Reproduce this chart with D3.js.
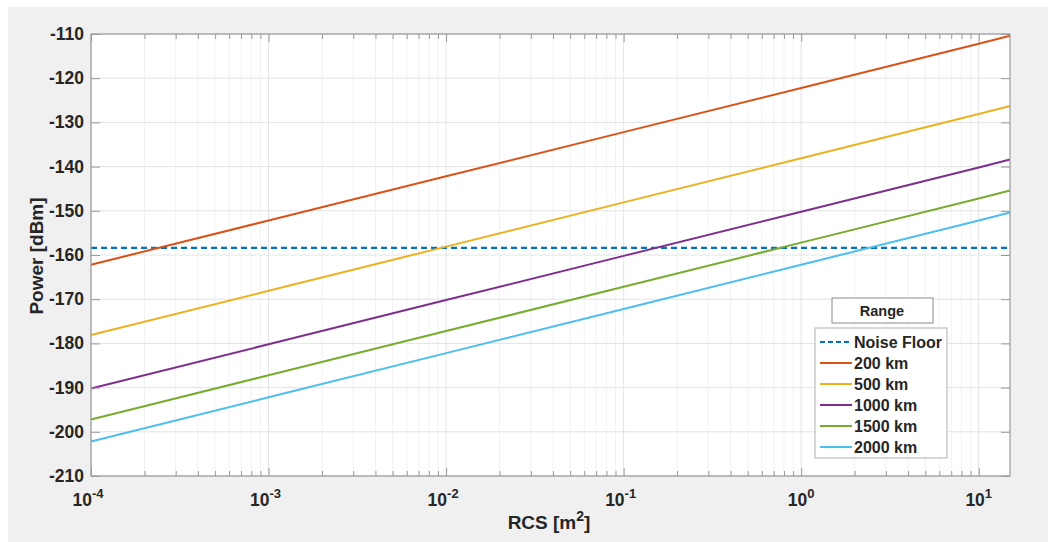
<!DOCTYPE html>
<html>
<head>
<meta charset="utf-8">
<script src="https://cdn.jsdelivr.net/npm/d3@7"></script>
<style>
  body { margin: 0; background: #fff; }
  text { font-family: "Liberation Sans", Arial, sans-serif; font-weight: bold; fill: #262626; }
</style>
</head>
<body>
<svg id="chart" width="1048" height="542"></svg>
<script>
// RCS sample points [m^2]
const rcs = [1e-4, 1e-3, 1e-2, 1e-1, 1, 10, 15];

// received power [dBm] at each rcs point
const p200 = [-162.2, -152.2, -142.2, -132.2, -122.2, -112.2, -110.4];
const p500 = [-178.1, -168.1, -158.1, -148.1, -138.1, -128.1, -126.3];
const p1000 = [-190.2, -180.2, -170.2, -160.2, -150.2, -140.2, -138.4];
const p1500 = [-197.2, -187.2, -177.2, -167.2, -157.2, -147.2, -145.4];
const p2000 = [-202.2, -192.2, -182.2, -172.2, -162.2, -152.2, -150.4];
const noiseFloor = -158.4;

const seriesNames = ['200 km', '500 km', '1000 km', '1500 km', '2000 km'];
const seriesVals = [p200, p500, p1000, p1500, p2000];
const seriesColors = ['#D95319', '#EDB120', '#7E2F8E', '#77AC30', '#4DBEEE'];

const yTicks = [-210, -200, -190, -180, -170, -160, -150, -140, -130, -120, -110];
const xTickExp = [-4, -3, -2, -1, 0, 1];

const L = 91, R = 1010, T = 34, B = 476;

let svg = d3.select('#chart');

// figure background
svg.append('rect')
  .attr('x', 8).attr('y', 7)
  .attr('width', 1040).attr('height', 535)
  .attr('fill', '#f0f0f0');

let x = d3.scaleLog().domain([1e-4, 15]).range([L, R]);
let y = d3.scaleLinear().domain([-210, -110]).range([B, T]);

svg.append('rect')
  .attr('x', L).attr('y', T)
  .attr('width', R - L).attr('height', B - T)
  .attr('fill', '#fff');

// minor grid (2..9 of each decade)
let minor = [];
for (let e = -4; e <= 1; e++) {
  for (let m = 2; m <= 9; m++) {
    let v = m * Math.pow(10, e);
    if (v < 15) minor.push(v);
  }
}
let majors = xTickExp.map(e => Math.pow(10, e));

svg.append('g').selectAll('line').data(minor).join('line')
  .attr('x1', d => x(d)).attr('x2', d => x(d))
  .attr('y1', T).attr('y2', B)
  .attr('stroke', '#f2f2f2').attr('stroke-width', 1);

svg.append('g').selectAll('line').data(majors).join('line')
  .attr('x1', d => x(d)).attr('x2', d => x(d))
  .attr('y1', T).attr('y2', B)
  .attr('stroke', '#e3e3e3').attr('stroke-width', 1);

svg.append('g').selectAll('line').data(yTicks).join('line')
  .attr('x1', L).attr('x2', R)
  .attr('y1', d => y(d)).attr('y2', d => y(d))
  .attr('stroke', '#e3e3e3').attr('stroke-width', 1);

// noise floor
svg.append('line')
  .attr('x1', L).attr('x2', R)
  .attr('y1', y(noiseFloor)).attr('y2', y(noiseFloor))
  .attr('stroke', '#0072BD').attr('stroke-width', 2.2)
  .attr('stroke-dasharray', '6,4');

// range lines
let line = d3.line().x(d => x(d[0])).y(d => y(d[1]));
seriesVals.forEach((vals, i) => {
  svg.append('path')
    .datum(rcs.map((r, j) => [r, vals[j]]))
    .attr('d', line)
    .attr('fill', 'none')
    .attr('stroke', seriesColors[i])
    .attr('stroke-width', 2);
});

// axes box with inward ticks
let axisColor = '#9a9a9a';
let ax = svg.append('g');

ax.append('g')
  .attr('transform', `translate(0,${B})`)
  .call(d3.axisBottom(x).tickValues(majors).tickSize(-8).tickFormat(''))
  .call(g => g.select('.domain').remove());
ax.append('g')
  .attr('transform', `translate(0,${B})`)
  .call(d3.axisBottom(x).tickValues(minor).tickSize(-5).tickFormat(''))
  .call(g => g.select('.domain').remove());
ax.append('g')
  .attr('transform', `translate(0,${T})`)
  .call(d3.axisTop(x).tickValues(majors).tickSize(-8).tickFormat(''))
  .call(g => g.select('.domain').remove());
ax.append('g')
  .attr('transform', `translate(0,${T})`)
  .call(d3.axisTop(x).tickValues(minor).tickSize(-5).tickFormat(''))
  .call(g => g.select('.domain').remove());
ax.append('g')
  .attr('transform', `translate(${L},0)`)
  .call(d3.axisLeft(y).tickValues(yTicks).tickSize(-9).tickFormat(''))
  .call(g => g.select('.domain').remove());
ax.append('g')
  .attr('transform', `translate(${R},0)`)
  .call(d3.axisRight(y).tickValues(yTicks).tickSize(-9).tickFormat(''))
  .call(g => g.select('.domain').remove());
ax.selectAll('line').attr('stroke', axisColor);

ax.append('rect')
  .attr('x', L).attr('y', T)
  .attr('width', R - L).attr('height', B - T)
  .attr('fill', 'none').attr('stroke', axisColor).attr('stroke-width', 1.2);

// y tick labels
svg.append('g').selectAll('text').data(yTicks).join('text')
  .attr('x', 84).attr('y', d => y(d) + 6)
  .attr('text-anchor', 'end')
  .attr('font-size', 17.5)
  .text(d => d);

// x tick labels 10^n
let xl = svg.append('g').selectAll('text').data(xTickExp).join('text')
  .attr('x', d => x(Math.pow(10, d)) + (d < 0 ? -3 : 0))
  .attr('y', 506)
  .attr('text-anchor', 'middle')
  .attr('font-size', 17.5);
xl.append('tspan').text('10');
xl.append('tspan').attr('dy', -8).attr('font-size', 13).text(d => d);

// axis labels
let xlab = svg.append('text')
  .attr('x', 549).attr('y', 529)
  .attr('text-anchor', 'middle')
  .attr('font-size', 19);
xlab.append('tspan').text('RCS [m');
xlab.append('tspan').attr('dy', -8).attr('font-size', 14).text('2');
xlab.append('tspan').attr('dy', 8).text(']');

svg.append('text')
  .attr('transform', 'translate(43,256) rotate(-90)')
  .attr('text-anchor', 'middle')
  .attr('font-size', 19)
  .text('Power [dBm]');

// legend
let lg = svg.append('g');
lg.append('rect')
  .attr('x', 832).attr('y', 298).attr('width', 101).attr('height', 25)
  .attr('fill', '#fff').attr('stroke', '#8a8a8a');
lg.append('text')
  .attr('x', 882).attr('y', 316)
  .attr('text-anchor', 'middle')
  .attr('font-size', 14.5)
  .text('Range');
lg.append('rect')
  .attr('x', 815).attr('y', 328).attr('width', 132).attr('height', 130)
  .attr('fill', '#fff').attr('stroke', '#b0b0b0');

let legItems = [{name: 'Noise Floor', color: '#0072BD', dash: '5,3'}]
  .concat(seriesNames.map((n, i) => ({name: n, color: seriesColors[i], dash: null})));

legItems.forEach((it, i) => {
  let ly = 342 + i * 21;
  lg.append('line')
    .attr('x1', 820).attr('x2', 852)
    .attr('y1', ly).attr('y2', ly)
    .attr('stroke', it.color).attr('stroke-width', 2)
    .attr('stroke-dasharray', it.dash);
  lg.append('text')
    .attr('x', 854).attr('y', ly + 6)
    .attr('font-size', 16)
    .attr('fill', '#000')
    .text(it.name);
});
</script>
</body>
</html>
